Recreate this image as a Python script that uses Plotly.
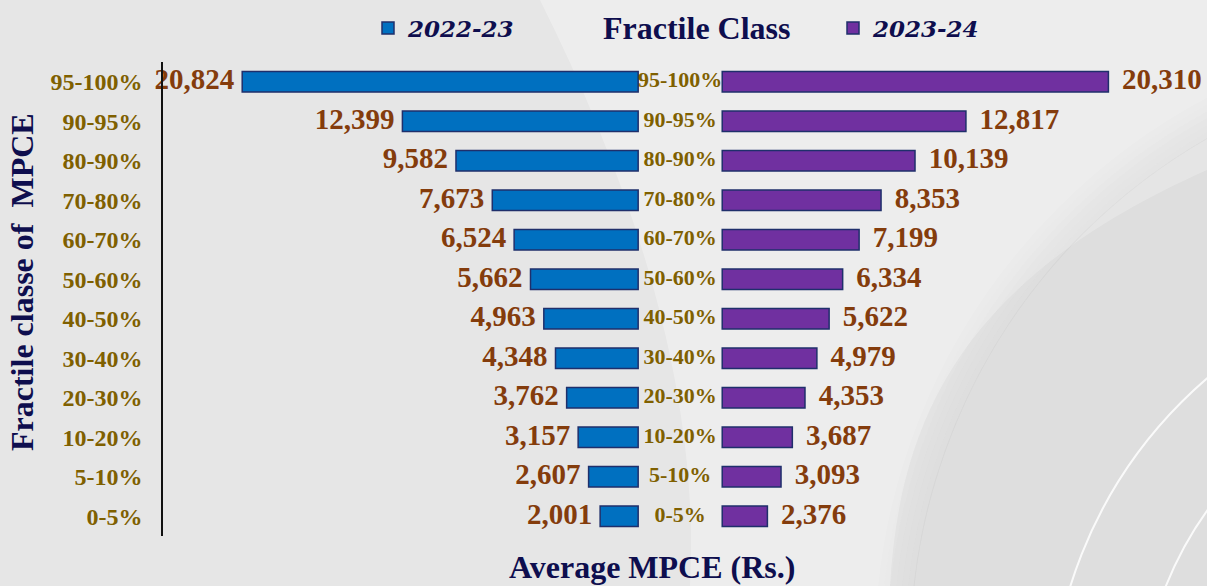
import plotly.graph_objects as go

classes = ["95-100%", "90-95%", "80-90%", "70-80%", "60-70%", "50-60%",
           "40-50%", "30-40%", "20-30%", "10-20%", "5-10%", "0-5%"]
mpce_2022 = [20824, 12399, 9582, 7673, 6524, 5662, 4963, 4348, 3762, 3157, 2607, 2001]
mpce_2023 = [20310, 12817, 10139, 8353, 7199, 6334, 5622, 4979, 4353, 3687, 3093, 2376]
series_names = ["2022-23", "2023-24"]

GAP = 2210  # half-gap (axis units) reserved for the centre labels
BLUE = "#0070C0"
PURPLE = "#7030A0"
EDGE = "#1F2F6B"
VAL_COL = "#843C0C"
CAT_COL = "#7F6000"
NAVY = "#0E0E4E"
SERIF = "Liberation Serif"

# plot-area geometry in pixels (for decorative background shapes)
L, R, T, B = 163, 1205, 62, 536
def px(x):
    return (x - L) / (R - L)
def py(y):
    return (B - y) / (B - T)

fig = go.Figure()

fig.add_trace(go.Bar(
    y=classes, x=[-v for v in mpce_2022], base=-GAP, orientation="h",
    name=series_names[0], marker=dict(color=BLUE, line=dict(color=EDGE, width=1.5)),
    width=0.52, hoverinfo="skip", legend="legend"))
fig.add_trace(go.Bar(
    y=classes, x=mpce_2023, base=GAP, orientation="h",
    name=series_names[1], marker=dict(color=PURPLE, line=dict(color=EDGE, width=1.5)),
    width=0.52, hoverinfo="skip", legend="legend2"))

# value labels
fig.add_trace(go.Scatter(
    y=classes, x=[-GAP - v - 420 for v in mpce_2022], mode="text",
    text=[f"{v:,}" for v in mpce_2022], textposition="middle left",
    textfont=dict(family=SERIF, size=29, color=VAL_COL, weight="bold"),
    showlegend=False, cliponaxis=False, hoverinfo="skip"))
fig.add_trace(go.Scatter(
    y=classes, x=[GAP + v + 720 for v in mpce_2023], mode="text",
    text=[f"{v:,}" for v in mpce_2023], textposition="middle right",
    textfont=dict(family=SERIF, size=29, color=VAL_COL, weight="bold"),
    showlegend=False, cliponaxis=False, hoverinfo="skip"))
# centre category labels
fig.add_trace(go.Scatter(
    y=classes, x=[0] * len(classes), mode="text",
    text=classes, textposition="middle center",
    textfont=dict(family=SERIF, size=22, color=CAT_COL, weight="bold"),
    showlegend=False, cliponaxis=False, hoverinfo="skip"))

shapes = [
    # bright diagonal swoosh band
    dict(type="path", xref="paper", yref="paper", layer="below",
         path=(f"M {px(540)},{py(0)} C {px(640)},{py(200)} {px(700)},{py(400)} {px(690)},{py(586)} "
               f"L {px(890)},{py(586)} C {px(900)},{py(420)} {px(960)},{py(280)} {px(1207)},{py(170)} "
               f"L {px(1207)},{py(0)} Z"),
         fillcolor="rgba(255,255,255,0.30)", line=dict(width=0)),
    # big disc at lower right
    dict(type="circle", xref="paper", yref="paper", layer="below",
         x0=px(1500 - 590), x1=px(1500 + 590), y0=py(650 + 590), y1=py(650 - 590),
         fillcolor="rgba(0,0,0,0.03)", line=dict(width=0)),
]
# soft shadow around the disc edge
for i, a in enumerate([0.05, 0.045, 0.04, 0.03, 0.02, 0.012]):
    r = 592 + i * 6
    shapes.append(dict(type="circle", xref="paper", yref="paper", layer="below",
                       x0=px(1500 - r), x1=px(1500 + r), y0=py(650 + r), y1=py(650 - r),
                       fillcolor="rgba(0,0,0,0)", line=dict(color=f"rgba(80,80,80,{a})", width=6)))
# white arcs
for r in (450, 360):
    shapes.append(dict(type="circle", xref="paper", yref="paper", layer="below",
                       x0=px(1500 - r), x1=px(1500 + r), y0=py(720 + r), y1=py(720 - r),
                       fillcolor="rgba(0,0,0,0)", line=dict(color="rgba(255,255,255,0.85)", width=2)))

legend_font = dict(family="DejaVu Serif", size=23, color=NAVY, weight="bold", style="italic")

fig.update_layout(
    width=1207, height=586,
    margin=dict(l=L, r=1207 - R, t=T, b=586 - B, autoexpand=False),
    paper_bgcolor="#E6E6E6", plot_bgcolor="rgba(0,0,0,0)",
    barmode="overlay",
    showlegend=True,
    legend=dict(x=px(368), y=py(28), xanchor="left", yanchor="middle",
                bgcolor="rgba(0,0,0,0)", font=legend_font, itemwidth=30, itemclick=False),
    legend2=dict(x=px(833), y=py(28), xanchor="left", yanchor="middle",
                 bgcolor="rgba(0,0,0,0)", font=legend_font, itemwidth=30, itemclick=False),
    xaxis=dict(range=[-27200, 27600], visible=False, fixedrange=True),
    yaxis=dict(categoryorder="array", categoryarray=classes, autorange=False,
               range=[11.5, -0.5], showline=True, linecolor="#111111", linewidth=1.5,
               showgrid=False, zeroline=False, ticks="", ticklabelstandoff=14,
               fixedrange=True,
               tickfont=dict(family=SERIF, size=24, color=CAT_COL, weight="bold")),
    shapes=shapes,
    annotations=[
        dict(text="Fractile Class", x=px(697), xref="paper", y=py(28), yref="paper",
             xanchor="center", yanchor="middle", showarrow=False,
             font=dict(family=SERIF, size=32, color=NAVY, weight="bold")),
        dict(text="Fractile classe of  MPCE", x=px(22), xref="paper", y=py(282), yref="paper",
             xanchor="center", yanchor="middle", textangle=-90, showarrow=False,
             font=dict(family=SERIF, size=32, color=NAVY, weight="bold")),
        dict(text="Average MPCE (Rs.)", x=px(652), xref="paper", y=py(567), yref="paper",
             xanchor="center", yanchor="middle", showarrow=False,
             font=dict(family=SERIF, size=32, color=NAVY, weight="bold")),
    ],
)

fig.write_html("out.html", config={"displayModeBar": False},
               post_script="document.body.style.margin='0';document.body.style.overflow='hidden';")
